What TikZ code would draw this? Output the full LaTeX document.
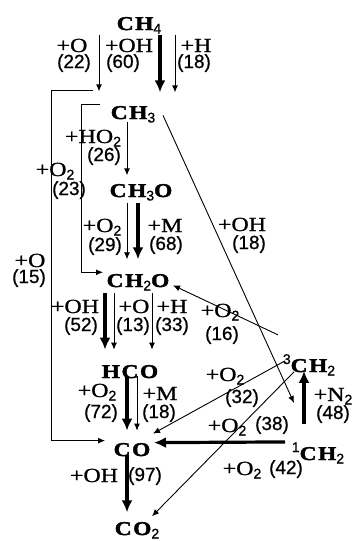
\documentclass[tikz,border=0pt]{standalone}
\usepackage{fontspec}
\usetikzlibrary{arrows.meta,calc}
\newfontfamily\spfont[FakeStretch=1.2,LetterSpace=8,FakeBold=2]{Liberation Serif}
\newfontfamily\lbfont[FakeStretch=1.2,FakeBold=1]{Liberation Serif}
\newfontfamily\nmfont[FakeBold=0.8]{Liberation Sans}
\newcommand\sbs[1]{\raisebox{-3.5pt}{\nmfont\mdseries\fontsize{14}{14}\selectfont #1}}
\newcommand\sps[1]{\raisebox{8pt}{\nmfont\mdseries\fontsize{14}{14}\selectfont #1}}
\begin{document}
\begin{tikzpicture}[x=1pt,y=-1pt,
  sp/.style={font=\spfont\bfseries\fontsize{19.5}{19.5}\selectfont,inner sep=0pt,anchor=base},
  lb/.style={font=\lbfont\fontsize{20}{20}\selectfont,inner sep=0pt,anchor=base},
  nm/.style={font=\nmfont\fontsize{19}{19}\selectfont,inner sep=0pt,anchor=base},
  tarr/.style={line width=0.9pt,-{Latex[length=7pt,width=6pt]}},
  thk/.style={line width=3.2pt,-{Latex[length=12pt,width=11pt]}},
  ln/.style={line width=0.9pt}]
\path[fill=white,use as bounding box] (0,0) rectangle (352,541);
% species
\node[sp] (ch4) at (139,30) {CH\sbs{4}};
\node[sp] (ch3) at (133,119) {CH\sbs{3}};
\node[sp] (ch3o) at (141,197) {CH\sbs{3}O};
\node[sp] (ch2o) at (138,287) {CH\sbs{2}O};
\node[sp] (hco) at (130,378) {HCO};
\node[sp] (co) at (132,456) {CO};
\node[sp] (co2) at (137,535) {CO\sbs{2}};
\node[sp] (tch2) at (309,372) {\sps{3}CH\sbs{2}};
\node[sp] (sch2) at (318,460) {\sps{1}CH\sbs{2}};
% connectors
\draw[tarr] ($(ch4)+(-40,10)$) -- ($(ch3)+(-34,-23)$);
\draw[thk] ($(ch4)+(21,10)$) -- ($(ch3)+(27,-22)$);
\draw[tarr] ($(ch4)+(36,10)$) -- ($(ch3)+(42,-22)$);
\draw[tarr] ($(ch3)+(-6,8)$) -- ($(ch3o)+(-14,-17)$);
\draw[tarr] ($(ch3)+(-33,-10)$) -- ++(-19,0) |- ($(ch2o)+(-35,-10)$);
\draw[tarr] ($(ch3)+(-40,-24)$) -- ++(-42,0) |- ($(co)+(-27,-9)$);
\draw[tarr] ($(ch3)+(30,1)$) -- ($(sch2)+(-24,-50)$);
\draw[tarr] ($(ch3o)+(-14,11)$) -- ($(ch2o)+(-11,-23)$);
\draw[thk] ($(ch3o)+(-3,11)$) -- ($(ch2o)+(0,-23)$);
\draw[thk] ($(ch2o)+(-33,11)$) -- ($(hco)+(-25,-22)$);
\draw[tarr] ($(ch2o)+(-24,11)$) -- ($(hco)+(-16,-22)$);
\draw[tarr] ($(ch2o)+(14,11)$) -- ($(hco)+(22,-22)$);
\draw[tarr] ($(tch2)+(-31,-30)$) -- ($(ch2o)+(35,3)$);
\draw[thk] ($(hco)+(-3,4)$) -- ($(co)+(-5,-19)$);
\draw[tarr] ($(hco)+(7,4)$) -- ($(co)+(5,-19)$);
\draw[thk] ($(co)+(-5,5)$) -- ($(co2)+(-10,-18)$);
\draw[thk] ($(sch2)+(-33,-11)$) -- ($(co)+(22,-7)$);
\draw[thk] ($(sch2)+(-14,-29)$) -- ($(tch2)+(-5,6)$);
\draw[tarr] ($(tch2)+(-24,-4)$) -- ($(co)+(21,-16)$);
\draw[tarr] ($(tch2)+(-15,7)$) -- ($(co2)+(15,-14)$);
% labels
\node[lb] (l1) at (72,52) {+O};   \node[nm] (n1) at (74,68) {(22)};
\node[lb] (l2) at (129,52) {+OH}; \node[nm] (n2) at (123,68) {(60)};
\node[lb] (l3) at (196,52) {+H};  \node[nm] (n3) at (194,68) {(18)};
\node[lb] (l4) at (93,143) {+HO\sbs{2}}; \node[nm] (n4) at (104,161) {(26)};
\node[lb] (l5) at (55,176) {+O\sbs{2}};  \node[nm] (n5) at (69,195) {(23)};
\node[lb] (l6) at (30,267) {+O};  \node[nm] (n6) at (29,283) {(15)};
\node[lb] (l7) at (242,231) {+OH}; \node[nm] (n7) at (249,249) {(18)};
\node[lb] (l8) at (102,232) {+O\sbs{2}}; \node[nm] (n8) at (105,251) {(29)};
\node[lb] (l9) at (165,232) {+M}; \node[nm] (n9) at (166,250) {(68)};
\node[lb] (l10) at (75,313) {+OH}; \node[nm] (n10) at (81,331) {(52)};
\node[lb] (l11) at (134,313) {+O}; \node[nm] (n11) at (133,331) {(13)};
\node[lb] (l12) at (172,313) {+H}; \node[nm] (n12) at (172,331) {(33)};
\node[lb] (l13) at (220,317) {+O\sbs{2}}; \node[nm] (n13) at (222,340) {(16)};
\node[lb] (l14) at (97,397) {+O\sbs{2}}; \node[nm] (n14) at (101,418) {(72)};
\node[lb] (l15) at (160,400) {+M}; \node[nm] (n15) at (159,418) {(18)};
\node[lb] (l16) at (94,482) {+OH}; \node[nm] (n16) at (145,481) {(97)};
\node[lb] (l17) at (242,475) {+O\sbs{2}}; \node[nm] (n17) at (286,474) {(42)};
\node[lb] (l18) at (333,401) {+N\sbs{2}}; \node[nm] (n18) at (333,419) {(48)};
\node[lb] (l19) at (225,381) {+O\sbs{2}}; \node[nm] (n19) at (242,403) {(32)};
\node[lb] (l20) at (227,432) {+O\sbs{2}}; \node[nm] (n20) at (272,430) {(38)};
\end{tikzpicture}
\end{document}
